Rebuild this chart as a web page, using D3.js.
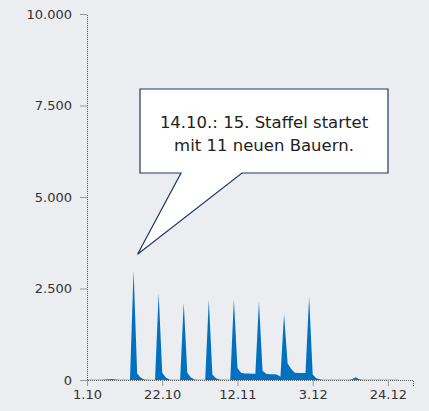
<!DOCTYPE html>
<html>
<head>
<meta charset="utf-8">
<script src="https://cdn.jsdelivr.net/npm/d3@7"></script>
<style>
  html, body { margin: 0; padding: 0; background: #ebedf1; }
  svg { display: block; font-family: "DejaVu Sans", sans-serif; }
</style>
</head>
<body>
<script>
  // daily values from 1.10. onward (index 0 = 1 October)
  var values = [
    5, 5, 5, 8, 10, 15, 20, 25, 15, 10, 8, 5, 5,
    3000, 180, 60, 15, 8, 5, 5,
    2370, 200, 70, 15, 8, 5, 5,
    2110, 200, 70, 15, 8, 5, 5,
    2190, 150, 50, 15, 8, 5, 5,
    2200, 330, 200, 180, 175, 170, 170,
    2140, 250, 170, 160, 160, 150, 90,
    1800, 450, 300, 200, 190, 190, 190,
    2280, 150, 50, 20, 10, 8, 5,
    5, 5, 5, 5, 10, 20, 75, 20, 8, 5, 5,
    5, 5, 8, 10, 8, 5, 5, 5
  ];
  var yTicks = [0, 2500, 5000, 7500, 10000];
  var xTickLabels = ["1.10", "22.10", "12.11", "3.12", "24.12"];
  var xTickDays = [0, 21, 42, 63, 84];
  var note = ["14.10.: 15. Staffel startet", "mit 11 neuen Bauern."];

  var width = 429, height = 411;
  var margin = {left: 87, right: 16, top: 14, bottom: 31};

  var start = new Date(2020, 9, 1);
  var days = values.map(function(v, i) { return d3.timeDay.offset(start, i); });

  var svg = d3.select("body").append("svg")
    .attr("width", width)
    .attr("height", height);

  var x = d3.scaleTime()
    .domain([start, d3.timeDay.offset(start, 91)])
    .range([margin.left, width - margin.right]);

  var y = d3.scaleLinear()
    .domain([0, 10000])
    .range([height - margin.bottom, margin.top]);

  var area = d3.area()
    .x(function(d, i) { return x(days[i]); })
    .y0(y(0))
    .y1(function(d) { return y(d); });

  svg.append("path")
    .datum(values)
    .attr("d", area)
    .attr("fill", "#0070c0");

  // y axis
  var yAxis = svg.append("g")
    .attr("transform", "translate(" + margin.left + ",0)")
    .call(d3.axisLeft(y).tickValues(yTicks).tickSize(7).tickPadding(8)
      .tickFormat(function(d) { return d3.format(",")(d).replace(/,/g, "."); }));
  yAxis.select(".domain").attr("stroke", "#555").attr("stroke-dasharray", "1,1");
  yAxis.selectAll(".tick line").attr("stroke", "#999");
  yAxis.selectAll("text").attr("font-size", 13).attr("fill", "#333")
    .attr("font-family", "DejaVu Sans, sans-serif");

  // x axis
  var xAxis = svg.append("g")
    .attr("transform", "translate(0," + y(0) + ")")
    .call(d3.axisBottom(x)
      .tickValues(xTickDays.map(function(d) { return d3.timeDay.offset(start, d); }))
      .tickSize(6).tickPadding(4)
      .tickFormat(function(d, i) { return xTickLabels[i]; }));
  xAxis.select(".domain").attr("stroke", "#555").attr("stroke-dasharray", "1,1");
  xAxis.selectAll(".tick line").attr("stroke", "#999");
  xAxis.selectAll("text").attr("font-size", 13).attr("fill", "#333")
    .attr("font-family", "DejaVu Sans, sans-serif");

  // callout
  var tipX = x(days[13]) + 4, tipY = y(values[13]) - 16;
  var bx0 = 140, bx1 = 388, by0 = 89, by1 = 173;
  var callout = d3.path();
  callout.moveTo(bx0, by0);
  callout.lineTo(bx1, by0);
  callout.lineTo(bx1, by1);
  callout.lineTo(242, by1);
  callout.lineTo(tipX, tipY);
  callout.lineTo(181, by1);
  callout.lineTo(bx0, by1);
  callout.closePath();

  svg.append("path")
    .attr("d", callout.toString())
    .attr("fill", "#fff")
    .attr("stroke", "#1f3864")
    .attr("stroke-width", 1.2);

  svg.append("text")
    .attr("x", (bx0 + bx1) / 2)
    .attr("y", 128)
    .attr("text-anchor", "middle")
    .attr("font-size", 16.5)
    .attr("fill", "#222")
    .selectAll("tspan")
    .data(note)
    .enter().append("tspan")
    .attr("x", (bx0 + bx1) / 2)
    .attr("dy", function(d, i) { return i ? 23 : 0; })
    .text(function(d) { return d; });
</script>
</body>
</html>
